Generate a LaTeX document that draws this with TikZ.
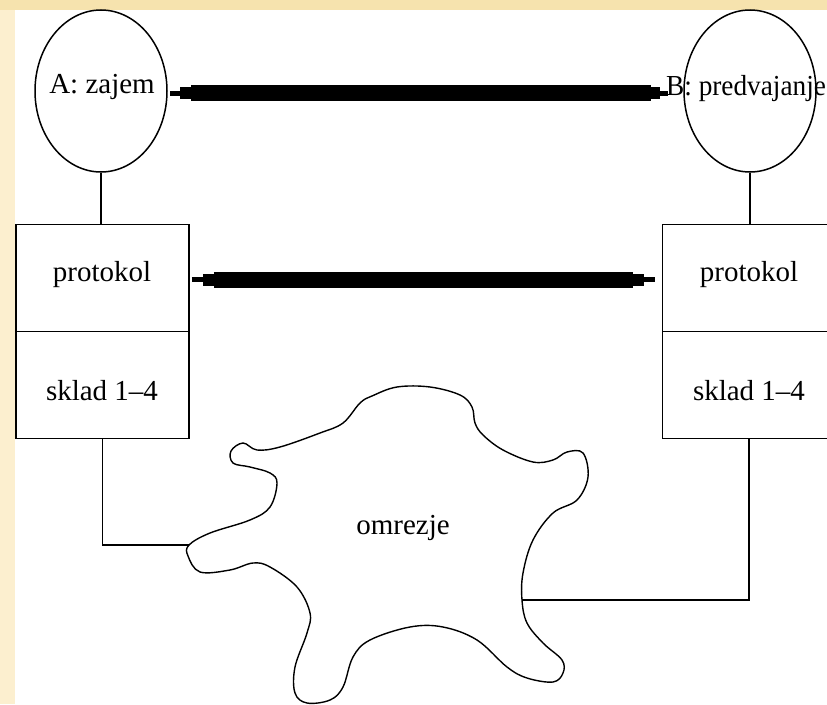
\documentclass[tikz,border=0pt]{standalone}
\usepackage{fontspec}
\setmainfont{Liberation Serif}
\usetikzlibrary{shapes.geometric}

\definecolor{paper}{HTML}{FCEFCF}
\definecolor{paperTop}{HTML}{F6E3AE}

\tikzset{
  outline/.style={draw=black, line width=1.5pt},
  host/.style={ellipse, outline, minimum width=132pt, minimum height=162pt, inner sep=0pt},
  layer/.style={rectangle, outline, line width=1.8pt, minimum width=173pt, minimum height=107pt, inner sep=0pt},
  lbl/.style={anchor=base, inner sep=0pt, font=\fontsize{29}{34}\selectfont},
  wire/.style={draw=black, line width=1.8pt},
  pipetip/.style={draw=black, line width=5pt},
  pipemid/.style={draw=black, line width=12pt},
  pipecore/.style={draw=black, line width=16pt},
}

\begin{document}
\begin{tikzpicture}[x=1pt, y=-1pt]
  \useasboundingbox (0,0) rectangle (827,704);
  \clip (0,0) rectangle (827,704);

  % page background
  \fill[paper] (0,0) rectangle (827,704);
  \fill[paperTop] (0,0) rectangle (827,10);
  \fill[white] (15,10) rectangle (827,704);

  % application endpoints
  \node[host] (A) at (101,91) {};
  \node[host] (B) at (750,91) {};
  \node[lbl] (Atxt) at (102,93) {A: zajem};
  \node[lbl, anchor=base west] (Btxt) at (666,95) {\scalebox{0.94}[1]{B: predvajanje}};

  % protocol stacks
  \node[layer] (pA) at (102.5,278) {};
  \node[layer] (sA) at (102.5,385) {};
  \node[layer] (pB) at (749,278) {};
  \node[layer] (sB) at (749,385) {};
  \node[lbl] at (102,281) {protokol};
  \node[lbl] at (102,400) {sklad 1--4};
  \node[lbl] at (749,281) {protokol};
  \node[lbl] at (749,400) {sklad 1--4};

  % vertical links between endpoints and stacks
  \draw[wire] (A.south) -- (A.south |- pA.north);
  \draw[wire] (B.south) -- (B.south |- pB.north);

  % the network cloud
  \coordinate (netL) at (189,545);
  \coordinate (netR) at (522,600);
  \draw[outline, line width=1.4pt] plot[smooth cycle, tension=0.6] coordinates {
    (360,403) (372,396) (397,387) (430,387) (460,395) (472,407) (475,423)
    (483,435) (503,450) (533,462) (553,460) (567,452) (583,453) (588,477)
    (577,500) (553,513) (533,540) (523,573) (netR) (527,623) (543,643)
    (562,660) (563,673) (553,682) (527,678) (507,667) (477,640) (443,627)
    (410,627) (370,640) (353,657) (343,687) (330,700) (307,703) (295,693)
    (295,667) (307,633) (310,613) (297,587) (270,567) (253,563) (230,570)
    (200,572) (188,556) (netL) (210,533) (250,520) (270,507) (277,483)
    (270,473) (250,467) (233,463) (231,451) (243,443) (257,450) (280,447)
    (320,433) (343,423)
  };
  \node[lbl] (net) at (403,534) {omrezje};

  % stacks attached to the network
  \draw[wire] (sA.south) |- (netL);
  \draw[wire] (sB.south) |- (netR);

  % logical channels between peers
  \coordinate (a1) at (170,93);
  \coordinate (b1) at (668,93);
  \draw[pipetip] (a1) -- (b1);
  \draw[pipemid, shorten <=10pt, shorten >=8pt] (a1) -- (b1);
  \draw[pipecore, shorten <=21pt, shorten >=17pt] (a1) -- (b1);

  \coordinate (a2) at ([xshift=2pt]pA.east |- 0,279.5);
  \coordinate (b2) at ([xshift=-7pt]pB.west |- 0,279.5);
  \draw[pipetip] (a2) -- (b2);
  \draw[pipemid, shorten <=11pt, shorten >=11pt] (a2) -- (b2);
  \draw[pipecore, shorten <=22pt, shorten >=22pt] (a2) -- (b2);
\end{tikzpicture}
\end{document}
